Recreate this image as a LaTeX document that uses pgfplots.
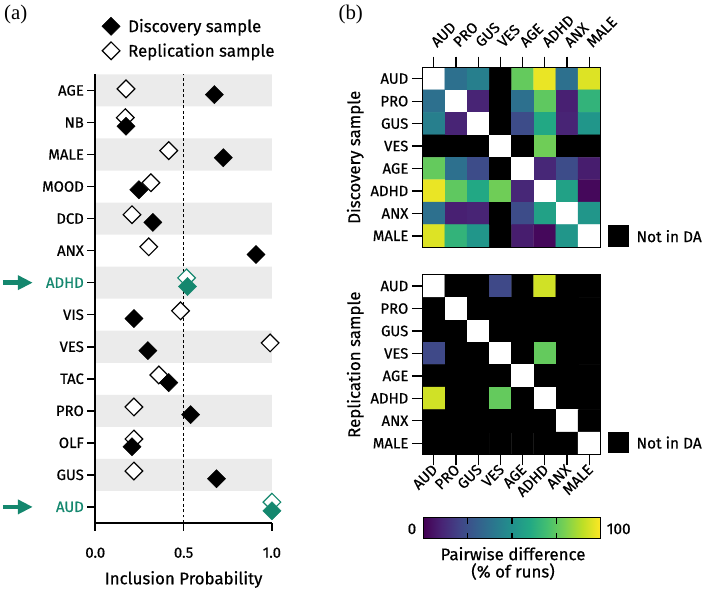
\documentclass[border=0pt]{standalone}
\usepackage{pgfplots}
\pgfplotsset{compat=1.18}
\usetikzlibrary{arrows.meta}
\usepackage{fontspec}
\setmainfont{Fira Sans}[FakeBold=0.6]
\newfontfamily\seriffont{Liberation Serif}
\definecolor{tealc}{RGB}{20,135,110}
\definecolor{bandgray}{RGB}{235,235,235}
\pgfplotsset{
  colormap={hm}{[1pt] rgb255(0pt)=(0,0,0); rgb255(20pt)=(68,1,84); rgb255(30pt)=(72,36,117); rgb255(40pt)=(65,68,135); rgb255(50pt)=(53,95,141); rgb255(60pt)=(42,120,142); rgb255(70pt)=(33,145,140); rgb255(80pt)=(34,168,132); rgb255(90pt)=(68,191,112); rgb255(100pt)=(122,209,81); rgb255(110pt)=(189,223,38); rgb255(120pt)=(253,231,37); rgb255(140pt)=(255,255,255)},
  colormap={vir}{[1pt] rgb255(0pt)=(68,1,84); rgb255(10pt)=(72,36,117); rgb255(20pt)=(65,68,135); rgb255(30pt)=(53,95,141); rgb255(40pt)=(42,120,142); rgb255(50pt)=(33,145,140); rgb255(60pt)=(34,168,132); rgb255(70pt)=(68,191,112); rgb255(80pt)=(122,209,81); rgb255(90pt)=(189,223,38); rgb255(100pt)=(253,231,37)},
  heat/.style={
    scale only axis, width=179pt, height=181pt, anchor=south west,
    xmin=-0.5, xmax=7.5, ymin=-0.5, ymax=7.5, y dir=reverse,
    xtick={0,...,7}, ytick={0,...,7},
    xticklabels={AUD,PRO,GUS,VES,AGE,ADHD,ANX,MALE},
    yticklabels={AUD,PRO,GUS,VES,AGE,ADHD,ANX,MALE},
    tick align=outside, major tick length=11pt,
    tick style={black, line width=1.3pt},
    axis line style={line width=0.8pt},
    ytick pos=left,
    colormap name=hm, point meta min=-20, point meta max=120,
    axis on top,
    ticklabel style={font=\fontsize{15}{18}\selectfont},
    ylabel style={font=\fontsize{17}{20}\selectfont},
  },
}
\begin{document}
\begin{tikzpicture}[x=1pt,y=1pt]
\path (0,0) rectangle (705,591);
% ---------------- panel (a)
\begin{axis}[name=pa, at={(96pt,64pt)}, anchor=south west, scale only axis,
  width=178pt, height=452pt,
  xmin=0, xmax=1, ymin=-0.5, ymax=13.5,
  axis x line*=bottom, axis y line*=left, axis line style={line width=1.6pt, -},
  xtick={0,0.5,1}, xticklabels={0.0,0.5,1.0},
  ytick={0,...,13},
  yticklabels={\textcolor{tealc}{AUD},GUS,OLF,PRO,TAC,VES,VIS,\textcolor{tealc}{ADHD},ANX,DCD,MOOD,MALE,NB,AGE},
  tick align=outside, major tick length=8pt, tick style={black, line width=1.6pt},
  ticklabel style={font=\fontsize{15}{18}\selectfont},
  xticklabel style={anchor=center, yshift=-22pt},
  xlabel={Inclusion Probability},
  xlabel style={font=\fontsize{17}{20}\selectfont, at={(axis description cs:0.5,0)}, anchor=center, yshift=-57pt},
  clip=false, axis on top,
  legend style={at={(0.02,1.133)}, anchor=north west, draw=none, fill=none,
    font=\fontsize{17}{20}\selectfont, row sep=6pt, column sep=6pt},
  legend cell align=left,
]
\addlegendimage{only marks, mark=square*, mark size=6.5pt, mark options={rotate=45, fill=black, draw=black}}
\addlegendentry{Discovery sample}
\addlegendimage{only marks, mark=square*, mark size=6.3pt, mark options={rotate=45, fill=white, draw=black, line width=1.2pt}}
\addlegendentry{Replication sample}
\addplot[xbar, bar width=1, bar shift=0pt, fill=bandgray, draw=none, forget plot]
  coordinates {(1,1) (1,3) (1,5) (1,7) (1,9) (1,11) (1,13)};
\addplot[black, line width=0.9pt, dash pattern=on 3pt off 2.5pt, forget plot]
  coordinates {(0.5,-0.5) (0.5,13.5)};
% replication (open)
\addplot[only marks, mark=square*, mark size=6.3pt, mark options={rotate=45, fill=white, draw=black, line width=1.2pt}, forget plot]
  coordinates {(0.174,13.05) (0.170,12.15) (0.416,11.12) (0.315,10.12) (0.208,9.12) (0.303,8.12)
               (0.483,6.12) (0.990,5.12) (0.360,4.12) (0.219,3.12) (0.219,2.12) (0.219,1.12)};
\addplot[only marks, mark=square*, mark size=6.3pt, mark options={rotate=45, fill=white, draw=tealc, line width=1.2pt}, forget plot]
  coordinates {(0.517,7.15) (1.0,0.15)};
% discovery (filled)
\addplot[only marks, mark=square*, mark size=6.5pt, mark options={rotate=45, fill=black, draw=black}, forget plot]
  coordinates {(0.674,12.87) (0.174,11.88) (0.725,10.9) (0.247,9.9) (0.326,8.88) (0.910,7.88)
               (0.219,5.88) (0.298,4.88) (0.416,3.88) (0.540,2.88) (0.208,1.88) (0.686,0.88)};
\addplot[only marks, mark=square*, mark size=6.5pt, mark options={rotate=45, fill=tealc, draw=tealc}, forget plot]
  coordinates {(0.522,6.88) (1.0,-0.12)};
\draw[tealc, line width=4.5pt, -{Triangle[length=15pt, width=14pt]}] ([xshift=-93pt]axis cs:0,7) -- ([xshift=-63pt]axis cs:0,7);
\draw[tealc, line width=4.5pt, -{Triangle[length=15pt, width=14pt]}] ([xshift=-93pt]axis cs:0,0) -- ([xshift=-63pt]axis cs:0,0);
\end{axis}
\node[anchor=north west, inner sep=0pt, font=\seriffont\fontsize{21}{24}\selectfont] at (4,586) {(a)};
\node[anchor=north west, inner sep=0pt, font=\seriffont\fontsize{21}{24}\selectfont] at (341,586) {(b)};
% ---------------- panel (b) top
\begin{axis}[heat, at={(426pt,342pt)},
  xtick pos=right, xticklabel pos=right,
  xticklabel style={rotate=45, anchor=south west, xshift=5pt},
  ylabel={Discovery sample}]
\addplot[matrix plot*, point meta=explicit, mesh/cols=8] coordinates {
(0,0)[120] (1,0)[37] (2,0)[43] (3,0)[-20] (4,0)[76] (5,0)[97] (6,0)[37] (7,0)[95]
(0,1)[37] (1,1)[120] (2,1)[10] (3,1)[-20] (4,1)[37] (5,1)[75] (6,1)[9] (7,1)[65]
(0,2)[43] (1,2)[10] (2,2)[120] (3,2)[-20] (4,2)[23] (5,2)[60] (6,2)[10] (7,2)[52]
(0,3)[-20] (1,3)[-20] (2,3)[-20] (3,3)[120] (4,3)[-20] (5,3)[78] (6,3)[-20] (7,3)[-20]
(0,4)[76] (1,4)[37] (2,4)[23] (3,4)[-20] (4,4)[120] (5,4)[11] (6,4)[23] (7,4)[8]
(0,5)[97] (1,5)[75] (2,5)[60] (3,5)[78] (4,5)[11] (5,5)[120] (6,5)[57] (7,5)[2]
(0,6)[37] (1,6)[9] (2,6)[10] (3,6)[-20] (4,6)[23] (5,6)[57] (6,6)[120] (7,6)[52]
(0,7)[95] (1,7)[65] (2,7)[52] (3,7)[-20] (4,7)[8] (5,7)[2] (6,7)[52] (7,7)[120]
};
\end{axis}
% ---------------- panel (b) bottom
\begin{axis}[heat, at={(426pt,133pt)},
  xtick pos=left, xticklabel pos=left,
  xticklabel style={rotate=45, anchor=east, xshift=3pt, yshift=-2pt},
  ylabel={Replication sample}]
\addplot[matrix plot*, point meta=explicit, mesh/cols=8] coordinates {
(0,0)[120] (1,0)[-20] (2,0)[-20] (3,0)[22] (4,0)[-20] (5,0)[93] (6,0)[-20] (7,0)[-20]
(0,1)[-20] (1,1)[120] (2,1)[-20] (3,1)[-20] (4,1)[-20] (5,1)[-20] (6,1)[-20] (7,1)[-20]
(0,2)[-20] (1,2)[-20] (2,2)[120] (3,2)[-20] (4,2)[-20] (5,2)[-20] (6,2)[-20] (7,2)[-20]
(0,3)[22] (1,3)[-20] (2,3)[-20] (3,3)[120] (4,3)[-20] (5,3)[76] (6,3)[-20] (7,3)[-20]
(0,4)[-20] (1,4)[-20] (2,4)[-20] (3,4)[-20] (4,4)[120] (5,4)[-20] (6,4)[-20] (7,4)[-20]
(0,5)[93] (1,5)[-20] (2,5)[-20] (3,5)[76] (4,5)[-20] (5,5)[120] (6,5)[-20] (7,5)[-20]
(0,6)[-20] (1,6)[-20] (2,6)[-20] (3,6)[-20] (4,6)[-20] (5,6)[-20] (6,6)[120] (7,6)[-20]
(0,7)[-20] (1,7)[-20] (2,7)[-20] (3,7)[-20] (4,7)[-20] (5,7)[-20] (6,7)[-20] (7,7)[120]
};
\end{axis}
% Not in DA keys
\fill[black] (613,342) rectangle (634,364);
\node[anchor=west, font=\fontsize{15.5}{18}\selectfont] at (638,353) {Not in DA};
\fill[black] (613,134) rectangle (634,156);
\node[anchor=west, font=\fontsize{15.5}{18}\selectfont] at (638,145) {Not in DA};
% ---------------- colorbar
\begin{axis}[at={(427pt,48pt)}, anchor=south west, scale only axis,
  width=178pt, height=21pt, xmin=0, xmax=100, ymin=0, ymax=1,
  colormap name=vir, point meta min=0, point meta max=100,
  xtick={25,50,75}, xticklabels={}, ytick=\empty,
  tick align=inside, xtick pos=both, major tick length=6pt,
  tick style={black, line width=1.2pt}, axis line style={black, line width=1pt}, axis on top]
\addplot[surf, shader=interp, point meta=x, mesh/cols=2] coordinates {(0,0) (100,0) (0,1) (100,1)};
\end{axis}
\node[anchor=east, font=\fontsize{15.5}{18}\selectfont] at (423,58) {0};
\node[anchor=west, font=\fontsize{15.5}{18}\selectfont] at (608,58) {100};
\node[font=\fontsize{17}{20}\selectfont] at (517,33) {Pairwise difference};
\node[font=\fontsize{17}{20}\selectfont] at (517,15) {(\% of runs)};
\end{tikzpicture}
\end{document}
